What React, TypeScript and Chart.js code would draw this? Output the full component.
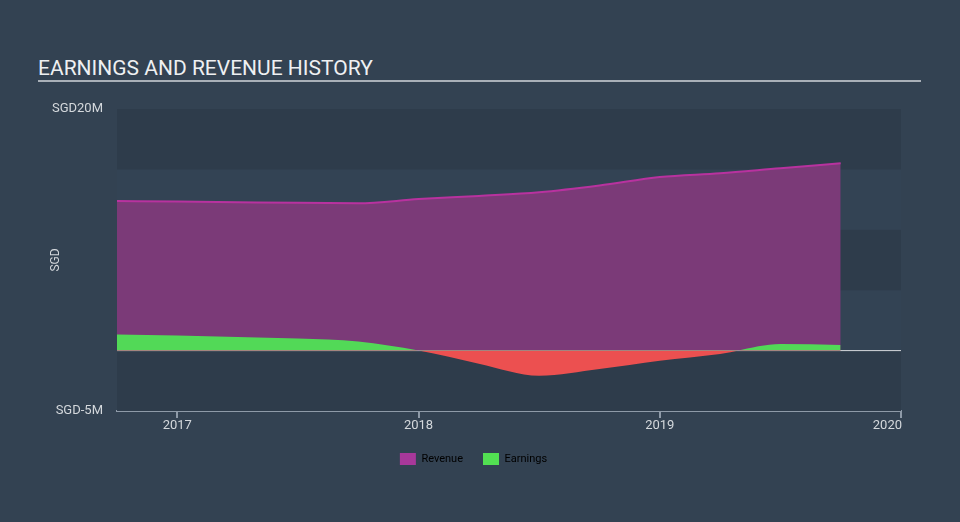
import React, { useEffect, useRef } from "react";
import { Chart, registerables } from "chart.js";
Chart.register(...registerables);

const periods = [2016.75, 2017.0, 2017.25, 2017.5, 2017.75, 2018.0, 2018.25, 2018.5, 2018.75, 2019.0, 2019.25, 2019.5, 2019.75];
const revenue = [12.38, 12.35, 12.29, 12.23, 12.2, 12.54, 12.8, 13.1, 13.66, 14.37, 14.68, 15.1, 15.5];
const earnings = [1.33, 1.25, 1.12, 1.0, 0.75, 0.0, -1.08, -2.08, -1.52, -0.83, -0.28, 0.55, 0.47];
const yearTicks = [2017, 2018, 2019, 2020];
const yTicks = [-5, 20];
const bandEdges = [-5, 0, 5, 10, 15, 20];

const FONT = "Roboto, 'Noto Sans', sans-serif";

const bandsPlugin = {
  id: "bands",
  beforeDatasetsDraw(chart: any) {
    const { ctx, chartArea, scales } = chart;
    const y = scales.y;
    ctx.save();
    for (let i = 0; i < bandEdges.length - 1; i++) {
      const top = y.getPixelForValue(bandEdges[i + 1]);
      const bot = y.getPixelForValue(bandEdges[i]);
      ctx.fillStyle = i % 2 === 0 ? "#2e3c4b" : "#334354";
      ctx.fillRect(chartArea.left, top, chartArea.right - chartArea.left, bot - top);
    }
    const z = y.getPixelForValue(0);
    ctx.strokeStyle = "#d6d9dc";
    ctx.lineWidth = 1;
    ctx.beginPath();
    ctx.moveTo(chartArea.left, z);
    ctx.lineTo(chartArea.right, z);
    ctx.stroke();
    ctx.restore();
  },
};

// right-align the last x tick label at its tick, as in the reference
const lastLabelPlugin = {
  id: "lastLabel",
  beforeDraw(chart: any) {
    const xs = chart.scales.x;
    const items = xs.getLabelItems(chart.chartArea);
    const last = items[items.length - 1];
    if (last && last.options.textAlign !== "right") {
      last.options.textAlign = "right";
      last.options.translation = [last.options.translation[0] + 1, last.options.translation[1]];
    }
  },
};

export default function App() {
  const ref = useRef<HTMLCanvasElement>(null);
  useEffect(() => {
    if (!ref.current) return;
    const chart = new Chart(ref.current, {
      type: "line",
      data: {
        datasets: [
          {
            label: "Revenue",
            data: periods.map((p, i) => ({ x: p, y: revenue[i] })),
            borderColor: "#b8329f",
            backgroundColor: "#7b3a78",
            borderWidth: 2,
            fill: "origin",
            pointRadius: 0,
            cubicInterpolationMode: "monotone",
            order: 2,
          },
          {
            label: "Earnings",
            data: periods.map((p, i) => ({ x: p, y: earnings[i] })),
            borderColor: "rgba(0,0,0,0)",
            borderWidth: 0,
            backgroundColor: "#52d957",
            fill: { target: { value: 0 }, above: "#52d957", below: "#ec5050" },
            pointRadius: 0,
            cubicInterpolationMode: "monotone",
            order: 1,
          },
        ],
      },
      options: {
        responsive: false,
        animation: false,
        layout: { padding: { left: 46, right: 59, top: 109, bottom: 47 } },
        plugins: {
          tooltip: { enabled: false },
          legend: {
            position: "bottom",
            labels: {
              color: "#dde0e3",
              font: { family: FONT, size: 11 },
              boxWidth: 16,
              boxHeight: 12,
              padding: 20,
              generateLabels: () => [
                { text: "Revenue", fillStyle: "#a8389a", strokeStyle: "rgba(0,0,0,0)", lineWidth: 0, datasetIndex: 0 },
                { text: "Earnings", fillStyle: "#52e052", strokeStyle: "rgba(0,0,0,0)", lineWidth: 0, datasetIndex: 1 },
              ],
            },
          },
        },
        scales: {
          x: {
            type: "linear",
            min: 2016.75,
            max: 2020,
            afterBuildTicks: (s: any) => {
              s.ticks = yearTicks.map((v) => ({ value: v }));
            },
            afterFit: (s: any) => {
              s.height = 22;
            },
            ticks: {
              color: "#d4d8dc",
              font: { family: FONT, size: 13 },
              padding: 0,
              maxRotation: 0,
              callback: (v: any) => String(v),
            },
            grid: { drawOnChartArea: false, color: "#8e9aa8", tickLength: 7, lineWidth: 2 },
            border: { color: "#8e9aa8", width: 2 },
          },
          y: {
            min: -5,
            max: 20,
            afterBuildTicks: (s: any) => {
              s.ticks = yTicks.map((v) => ({ value: v }));
            },
            afterFit: (s: any) => {
              s.width = 117 - 46;
            },
            ticks: {
              color: "#d4d8dc",
              font: { family: FONT, size: 13 },
              padding: 14,
              callback: (v: any) => "SGD" + v + "M",
            },
            title: {
              display: true,
              text: "SGD",
              color: "#d4d8dc",
              font: { family: FONT, size: 12 },
              padding: { top: 3, bottom: 0 },
            },
            grid: { display: false, drawTicks: false },
            border: { display: false },
          },
        },
      },
      plugins: [bandsPlugin, lastLabelPlugin],
    } as any);
    return () => chart.destroy();
  }, []);

  return (
    <div style={{ position: "fixed", left: 0, top: 0, width: 960, height: 522, background: "#334252", overflow: "hidden" }}>
      <div
        style={{
          position: "absolute",
          left: 38,
          top: 56,
          fontFamily: FONT,
          fontSize: 21,
          color: "#eef0f2",
          lineHeight: "24px",
          whiteSpace: "nowrap",
        }}
      >
        EARNINGS AND REVENUE HISTORY
      </div>
      <div style={{ position: "absolute", left: 38, top: 80, width: 883, height: 2, background: "#a9b0b8" }} />
      <canvas ref={ref} width={960} height={522} style={{ position: "absolute", left: 0, top: 0 }} />
    </div>
  );
}
